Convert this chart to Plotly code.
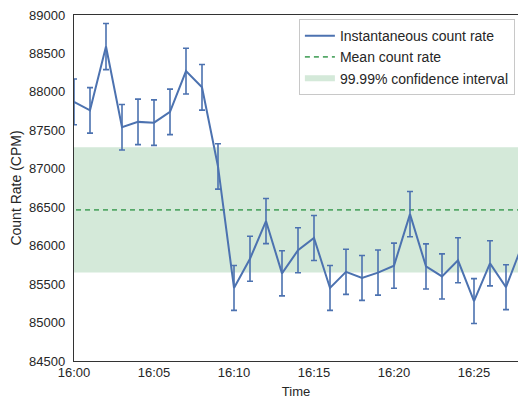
import plotly.graph_objects as go
import pandas as pd

# One reading per minute, starting at 16:00
minutes = list(range(0, 29))
count_rate = [87870, 87760, 88590, 87540, 87610, 87600, 87740, 88270, 88060, 87030,
              85450, 85830, 86320, 85640, 85940, 86100, 85450, 85660, 85580, 85650,
              85740, 86410, 85730, 85600, 85810, 85280, 85770, 85460, 86000]
count_err = [298, 296, 300, 296, 296, 296, 296, 298, 297, 295,
             292, 293, 294, 293, 293, 293, 292, 293, 292, 293,
             293, 294, 293, 293, 293, 292, 293, 292, 293]
mean_rate = 86465
conf_half_width = 815

start = pd.Timestamp("2024-01-01 16:00")
times = [start + pd.Timedelta(minutes=m) for m in minutes]
x_end = start + pd.Timedelta(minutes=27.75)

blue = "#4C72B0"
green = "#55A868"
band_fill = "rgba(85,168,104,0.25)"
font = "Liberation Sans, Arial, sans-serif"

fig = go.Figure()

band_x = [times[0] - pd.Timedelta(minutes=1), times[-1] + pd.Timedelta(minutes=1)]
fig.add_trace(go.Scatter(
    x=[band_x[0], band_x[1], band_x[1], band_x[0], band_x[0]],
    y=[mean_rate - conf_half_width, mean_rate - conf_half_width,
       mean_rate + conf_half_width, mean_rate + conf_half_width,
       mean_rate - conf_half_width],
    fill="toself", fillcolor=band_fill, mode="none",
    name="99.99% confidence interval", legendrank=3, hoverinfo="skip",
))

fig.add_trace(go.Scatter(
    x=band_x, y=[mean_rate, mean_rate], mode="lines",
    line=dict(color=green, width=1.8, dash="5px,4px"),
    name="Mean count rate", legendrank=2,
))

fig.add_trace(go.Scatter(
    x=times, y=count_rate, mode="lines",
    line=dict(color=blue, width=2),
    error_y=dict(type="data", array=count_err, visible=True,
                 color=blue, thickness=1.6, width=3),
    name="Instantaneous count rate", legendrank=1,
))

fig.update_layout(
    width=518, height=399,
    margin=dict(l=74, r=0, t=15, b=38),
    paper_bgcolor="white", plot_bgcolor="white",
    font=dict(family=font, size=13, color="#262626"),
    showlegend=True,
    legend=dict(
        x=0.993, y=0.988, xanchor="right", yanchor="top",
        bgcolor="white", bordercolor="#c8c8c8", borderwidth=1,
        font=dict(size=14, color="#262626"),
        tracegroupgap=0, itemwidth=30,
    ),
)

fig.update_xaxes(
    range=[start, x_end],
    tickformat="%H:%M", dtick=300000, tick0=start,
    showgrid=False, zeroline=False,
    showline=True, linecolor="#333333", linewidth=1.3, mirror=True,
    ticks="", ticklabelstandoff=-1,
    title=dict(text="Time", font=dict(size=13), standoff=10),
)

fig.update_yaxes(
    range=[84500, 89000], dtick=500,
    tickformat="d",
    showgrid=False, zeroline=False,
    showline=True, linecolor="#333333", linewidth=1.3, mirror=False,
    ticks="outside", ticklen=5, tickcolor="rgba(0,0,0,0)",
    title=dict(text="Count Rate (CPM)", font=dict(size=14), standoff=4),
)

fig.write_html("out.html")
